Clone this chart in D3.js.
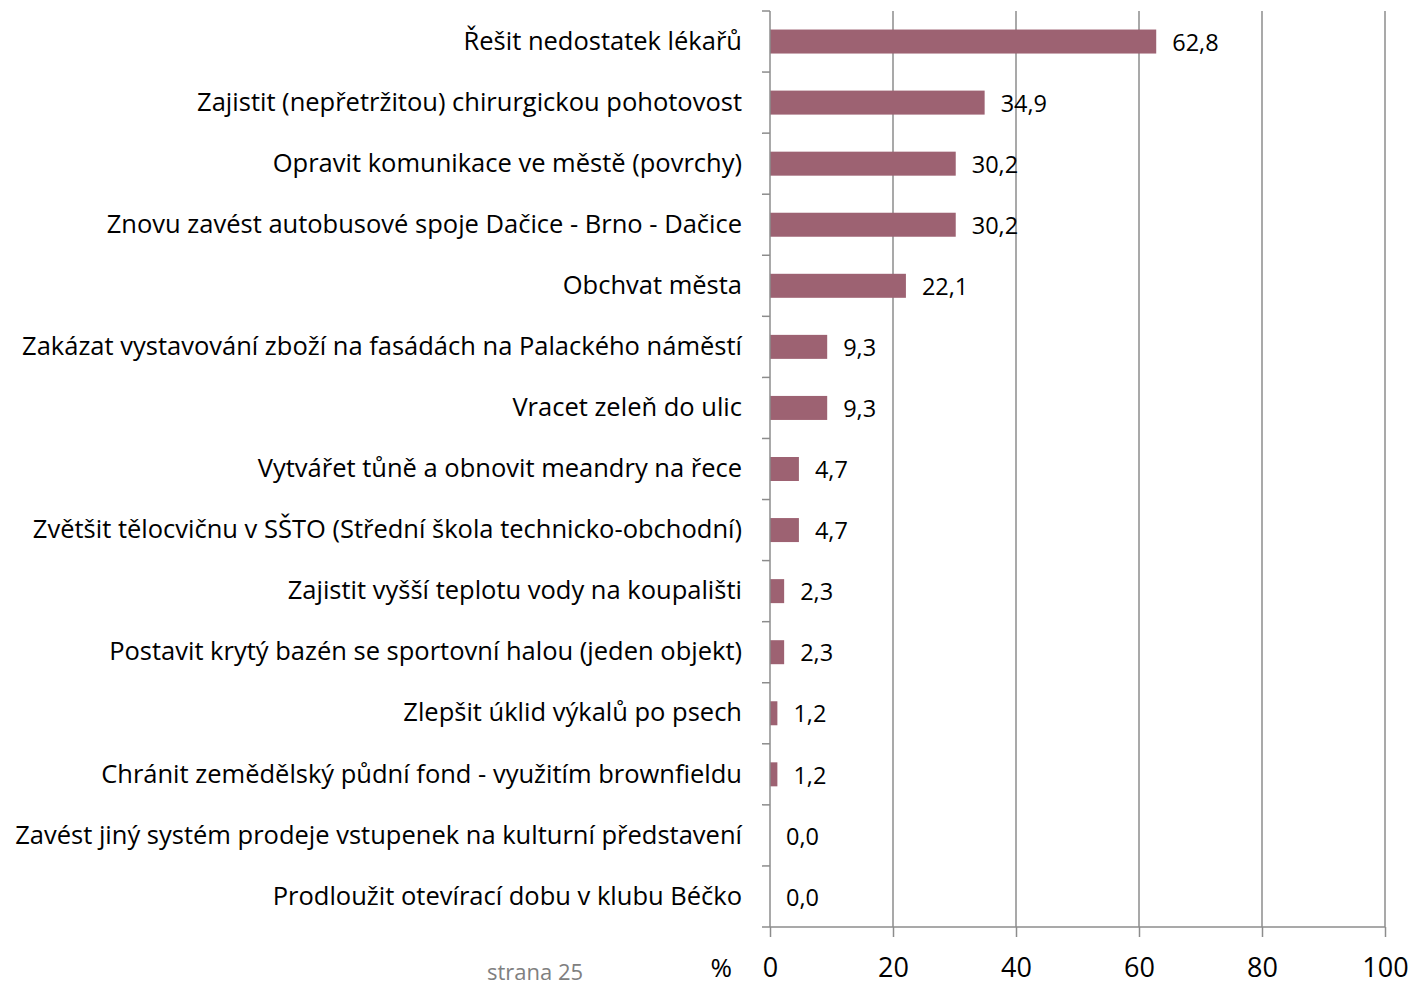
<!DOCTYPE html>
<html>
<head>
<meta charset="utf-8">
<script src="https://cdn.jsdelivr.net/npm/d3@7"></script>
<style>
  body { margin: 0; background: #fff; }
  svg text { font-family: "Open Sans", sans-serif; }
</style>
</head>
<body>
<svg id="chart" width="1410" height="988"></svg>
<script>
// categories, top to bottom
const categories = [
    "Řešit nedostatek lékařů",
    "Zajistit (nepřetržitou) chirurgickou pohotovost",
    "Opravit komunikace ve městě (povrchy)",
    "Znovu zavést autobusové spoje Dačice - Brno - Dačice",
    "Obchvat města",
    "Zakázat vystavování zboží na fasádách na Palackého náměstí",
    "Vracet zeleň do ulic",
    "Vytvářet tůně a obnovit meandry na řece",
    "Zvětšit tělocvičnu v SŠTO (Střední škola technicko-obchodní)",
    "Zajistit vyšší teplotu vody na koupališti",
    "Postavit krytý bazén se sportovní halou (jeden objekt)",
    "Zlepšit úklid výkalů po psech",
    "Chránit zemědělský půdní fond - využitím brownfieldu",
    "Zavést jiný systém prodeje vstupenek na kulturní představení",
    "Prodloužit otevírací dobu v klubu Béčko"
];
const values = [62.8, 34.9, 30.2, 30.2, 22.1, 9.3, 9.3, 4.7, 4.7, 2.3, 2.3, 1.2, 1.2, 0.0, 0.0];
const xTicks = [0, 20, 40, 60, 80, 100];

const margin = {top: 11, right: 25, bottom: 61, left: 770};
const width = 1410, height = 988;
const svg = d3.select("#chart");

const x = d3.scaleLinear()
    .domain([0, 100])
    .range([margin.left, width - margin.right]);

const y = d3.scaleBand()
    .domain(categories)
    .range([margin.top, height - margin.bottom]);

const fmt = function(v) { return v.toFixed(1).replace(".", ","); };

// vertical gridlines
svg.append("g")
    .selectAll("line")
    .data(xTicks.slice(1))
    .enter().append("line")
    .attr("x1", function(d) { return x(d); })
    .attr("x2", function(d) { return x(d); })
    .attr("y1", margin.top)
    .attr("y2", height - margin.bottom)
    .attr("stroke", "#8c8c8c")
    .attr("stroke-width", 1.5);

// bars
const barH = 24;
svg.append("g")
    .selectAll("rect")
    .data(values)
    .enter().append("rect")
    .attr("x", x(0))
    .attr("y", function(d, i) { return y(categories[i]) + y.bandwidth() / 2 - barH / 2; })
    .attr("width", function(d) { return x(d) - x(0); })
    .attr("height", barH)
    .attr("fill", "#9d6272");

// value labels
svg.append("g")
    .selectAll("text")
    .data(values)
    .enter().append("text")
    .attr("x", function(d) { return x(d) + 16; })
    .attr("y", function(d, i) { return y(categories[i]) + y.bandwidth() / 2 + 1; })
    .attr("dy", "0.35em")
    .attr("font-size", 23.5)
    .attr("fill", "#000")
    .text(fmt);

// y axis (category labels)
const yAxis = svg.append("g")
    .attr("transform", "translate(" + x(0) + ",0)")
    .call(d3.axisLeft(y).tickSize(0).tickPadding(28));
yAxis.select(".domain").remove();
yAxis.selectAll("text").attr("font-size", 25.5).attr("fill", "#000");

// y axis line and boundary ticks
const bounds = d3.range(categories.length + 1).map(function(i) {
    return margin.top + i * y.step();
});
svg.append("line")
    .attr("x1", x(0)).attr("x2", x(0))
    .attr("y1", margin.top).attr("y2", height - margin.bottom)
    .attr("stroke", "#8c8c8c").attr("stroke-width", 1.5);
svg.append("g")
    .selectAll("line")
    .data(bounds)
    .enter().append("line")
    .attr("x1", x(0) - 8).attr("x2", x(0))
    .attr("y1", function(d) { return d; })
    .attr("y2", function(d) { return d; })
    .attr("stroke", "#8c8c8c").attr("stroke-width", 1.5);

// x axis
const xAxis = svg.append("g")
    .attr("transform", "translate(0," + (height - margin.bottom) + ")")
    .call(d3.axisBottom(x).tickValues(xTicks).tickSize(10).tickPadding(21).tickFormat(d3.format("d")));
xAxis.select(".domain").attr("stroke", "#8c8c8c").attr("stroke-width", 1.5).attr("d", "M" + x(0) + ",0H" + x(100));
xAxis.selectAll(".tick line").attr("stroke", "#8c8c8c").attr("stroke-width", 1.5);
xAxis.selectAll("text").attr("font-size", 27).attr("fill", "#000");

// unit label
svg.append("text")
    .attr("x", 732)
    .attr("y", 968)
    .attr("dy", "0.35em")
    .attr("text-anchor", "end")
    .attr("font-size", 26)
    .attr("fill", "#000")
    .text("%");

// page footer
svg.append("text")
    .attr("x", 535)
    .attr("y", 980)
    .attr("text-anchor", "middle")
    .attr("font-size", 22)
    .attr("fill", "#808080")
    .text("strana 25");
</script>
</body>
</html>
